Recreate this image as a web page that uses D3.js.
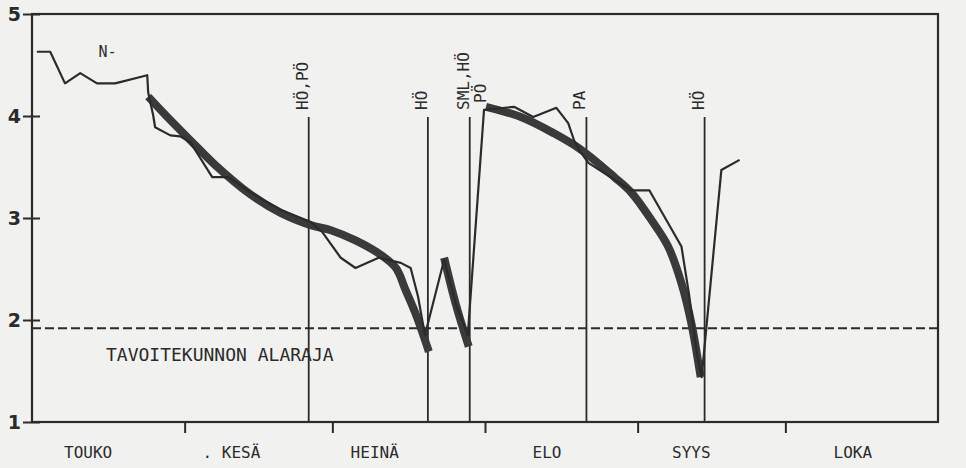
<!DOCTYPE html>
<html lang="fi">
<head>
  <meta charset="UTF-8">
  <title>N-luku</title>
  <style>
    html, body { margin: 0; padding: 0; background: #f1f1ef; }
    #main { width: 966px; height: 468px; }
    text { font-family: "DejaVu Sans Mono", monospace; fill: #2b2b2b; }
  </style>
</head>
<body>
  <div id="main"></div>
  <script src="https://d3js.org/d3.v7.min.js"></script>
  <script>
    // x = päivää 1.5. alkaen, y = arvo
    const monthStarts = [31, 61, 92, 123, 153];
    const monthNames = ['TOUKO', '. KESÄ', 'HEINÄ', 'ELO', 'SYYS', 'LOKA'];
    const monthLabelDay = [11.4, 40.5, 69.6, 104.6, 133.9, 166.7];
    const yTicks = [1, 2, 3, 4, 5];

    // mitattu (ohut viiva)
    const thinDays = [1.0, 3.7, 6.7, 9.8, 13.2, 16.9, 23.4, 23.6, 24.6, 25.0, 28.1, 30.1,
      32.2, 36.6, 39.9, 44.4, 50.5, 56.6, 59.0, 62.7, 65.7, 70.4, 74.9, 76.9, 78.4, 79.8,
      83.7, 86.1, 88.5, 91.8, 97.9, 101.8, 106.5, 108.9, 110.1, 111.5, 113.0, 121.7,
      125.4, 131.9, 133.5, 134.9, 136.0, 140.0, 143.7];
    const thinValues = [4.63, 4.63, 4.32, 4.42, 4.32, 4.32, 4.40, 4.23, 4.01, 3.89, 3.81, 3.80,
      3.74, 3.40, 3.40, 3.25, 3.08, 2.96, 2.86, 2.61, 2.51, 2.61, 2.56, 2.51, 2.23, 1.85,
      2.59, 2.15, 1.85, 4.06, 4.09, 3.99, 4.08, 3.93, 3.76, 3.64, 3.54, 3.27,
      3.27, 2.72, 2.23, 1.71, 1.44, 3.47, 3.57];

    // tasoitettu (paksu viiva), null = katko
    const thickDays = [23.6, 27.1, 32.2, 37.2, 44.4, 50.5, 56.6, 60.7, 65.7, 70.8, 73.9, 75.9,
      78.0, 80.6, null, 83.7, 86.1, 88.7, null, 92.2, 99.3, 106.0, 111.5, 118.3, 121.7,
      125.8, 129.2, 131.9, 133.9, 135.8];
    const thickValues = [4.19, 4.01, 3.76, 3.52, 3.23, 3.05, 2.93, 2.88, 2.78, 2.64, 2.51, 2.29,
      2.05, 1.69, null, 2.61, 2.15, 1.74, null, 4.09, 3.99, 3.83, 3.67, 3.40, 3.25,
      2.98, 2.72, 2.36, 1.97, 1.44];

    const eventDays = [56.2, 80.4, 88.9, 112.6, 136.6];
    const eventLabels = [['HÖ,PÖ'], ['HÖ'], ['SML,HÖ', 'PÖ'], ['PA'], ['HÖ']];

    const lowerLimit = 1.92;
    const limitLabel = 'TAVOITEKUNNON ALARAJA';

    const [width, height] = [966, 468];
    const svg = d3.select('#main').append('svg')
      .attr('width', width)
      .attr('height', height)
      .attr('viewBox', `0 0 ${width} ${height}`);

    const x = d3.scaleLinear().domain([0, 184]).range([32, 938]);
    const y = d3.scaleLinear().domain([1, 5]).range([422, 14]);

    const ink = '#2b2b2b';

    // kehys
    svg.append('rect')
      .attr('x', x(0)).attr('y', y(5))
      .attr('width', x(184) - x(0)).attr('height', y(1) - y(5))
      .attr('fill', 'none').attr('stroke', ink).attr('stroke-width', 2.2);

    // y-akseli
    const yAxis = svg.append('g').attr('transform', `translate(${x(0)},0)`)
      .call(d3.axisLeft(y).tickValues(yTicks).tickFormat(d3.format('d')).tickSize(8).tickPadding(3));
    yAxis.select('.domain').remove();
    yAxis.selectAll('.tick line').attr('x2', 8).attr('x1', -9).attr('stroke', ink).attr('stroke-width', 2);
    yAxis.selectAll('.tick text')
      .style('font-family', '"DejaVu Sans", sans-serif')
      .style('font-size', '19px').style('font-weight', 'bold').attr('fill', ink);

    // x-akseli
    const xAxis = svg.append('g').attr('transform', `translate(0,${y(1)})`)
      .call(d3.axisBottom(x).tickValues(monthStarts).tickFormat('').tickSize(11));
    xAxis.select('.domain').remove();
    xAxis.selectAll('.tick line').attr('stroke', ink).attr('stroke-width', 2);

    svg.append('g').selectAll('text')
      .data(monthNames)
      .join('text')
      .attr('x', (d, i) => x(monthLabelDay[i]))
      .attr('y', 458)
      .attr('text-anchor', 'middle')
      .style('font-size', '16px')
      .text(d => d);

    // toimenpiteet
    const ev = svg.append('g');
    ev.selectAll('line')
      .data(eventDays)
      .join('line')
      .attr('x1', d => x(d)).attr('x2', d => x(d))
      .attr('y1', y(3.99)).attr('y2', y(1))
      .attr('stroke', ink).attr('stroke-width', 1.8);

    ev.selectAll('text')
      .data(eventDays)
      .join('text')
      .attr('transform', d => `translate(${x(d) - 1},${y(4) - 6}) rotate(-90)`)
      .attr('text-anchor', 'start')
      .style('font-size', '16px')
      .each(function (d, i) {
        const t = d3.select(this);
        eventLabels[i].forEach((s, j) => {
          t.append('tspan')
            .attr('x', j === 0 ? 0 : 7)
            .attr('dy', j === 0 ? 0 : '1.05em')
            .text(s);
        });
      });

    // alaraja
    svg.append('line')
      .attr('x1', x(0)).attr('x2', x(184))
      .attr('y1', y(lowerLimit)).attr('y2', y(lowerLimit))
      .attr('stroke', ink).attr('stroke-width', 2)
      .attr('stroke-dasharray', '9,4');

    svg.append('text')
      .attr('x', 106).attr('y', 361)
      .style('font-size', '18px')
      .text(limitLabel);

    svg.append('text')
      .attr('x', x(13.5)).attr('y', 57)
      .style('font-size', '15px')
      .text('N-');

    // viivat
    const thinLine = d3.line()
      .x((d, i) => x(thinDays[i]))
      .y((d, i) => y(thinValues[i]));

    const thickLine = d3.line()
      .defined((d, i) => thickDays[i] !== null)
      .x((d, i) => x(thickDays[i]))
      .y((d, i) => y(thickValues[i]))
      .curve(d3.curveCatmullRom);

    svg.append('path')
      .attr('d', thickLine(thickDays))
      .attr('fill', 'none')
      .attr('stroke', '#3a3a3a')
      .attr('stroke-width', 8)
      .attr('stroke-linejoin', 'round');

    svg.append('path')
      .attr('d', thinLine(thinDays))
      .attr('fill', 'none')
      .attr('stroke', ink)
      .attr('stroke-width', 2.2)
      .attr('stroke-linejoin', 'round');
  </script>
</body>
</html>
